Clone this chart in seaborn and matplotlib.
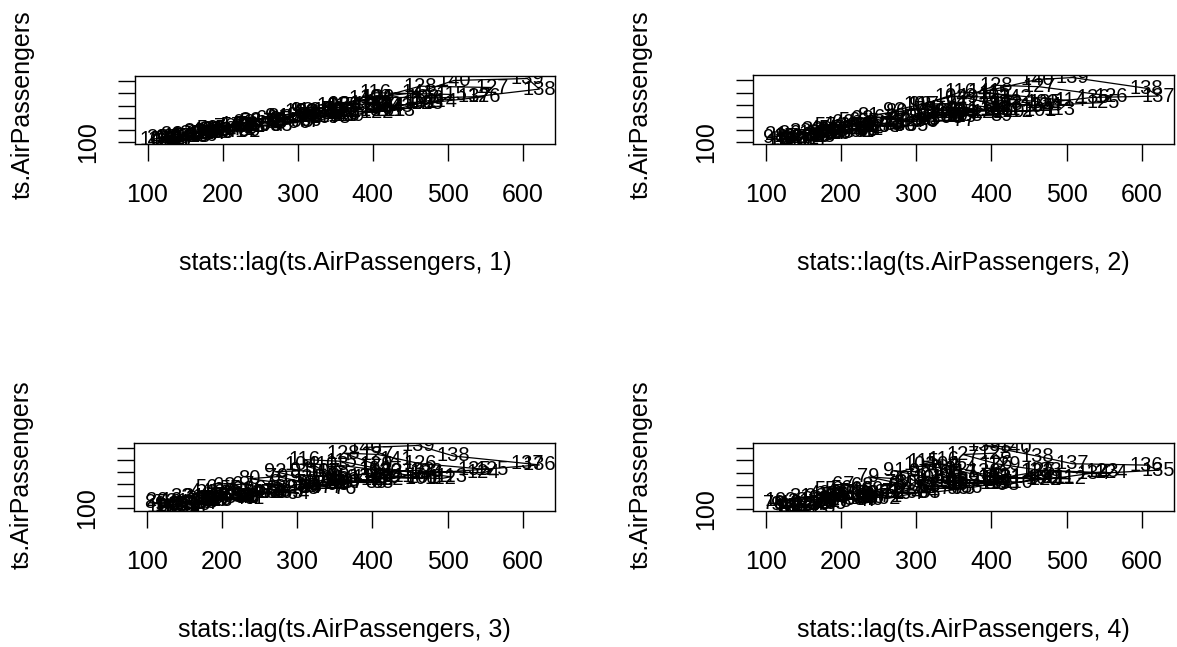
import matplotlib
matplotlib.use("Agg")
import matplotlib.pyplot as plt
import seaborn as sns
import pandas as pd
import numpy as np

# Monthly AirPassengers series, 1949-1960
air_1949 = [112, 118, 132, 129, 121, 135, 148, 148, 136, 119, 104, 118]
air_1950 = [115, 126, 141, 135, 125, 149, 170, 170, 158, 133, 114, 140]
air_1951 = [145, 150, 178, 163, 172, 178, 199, 199, 184, 162, 146, 166]
air_1952 = [171, 180, 193, 181, 183, 218, 230, 242, 209, 191, 172, 194]
air_1953 = [196, 196, 236, 235, 229, 243, 264, 272, 237, 211, 180, 201]
air_1954 = [204, 188, 235, 227, 234, 264, 302, 293, 259, 229, 203, 229]
air_1955 = [242, 233, 267, 269, 270, 315, 364, 347, 312, 274, 237, 278]
air_1956 = [284, 277, 317, 313, 318, 374, 413, 405, 355, 306, 271, 306]
air_1957 = [315, 301, 356, 348, 355, 422, 465, 467, 404, 347, 305, 336]
air_1958 = [340, 318, 362, 348, 363, 435, 491, 505, 404, 359, 310, 337]
air_1959 = [360, 342, 406, 396, 420, 472, 548, 559, 463, 407, 362, 405]
air_1960 = [417, 391, 419, 461, 472, 535, 622, 606, 508, 461, 390, 432]

lags = [1, 2, 3, 4]
x_ticks = [100, 200, 300, 400, 500, 600]
x_tick_labels = ["100", "200", "300", "400", "500", "600"]
y_ticks = [100, 200, 300, 400, 500, 600]
y_tick_labels = ["100", "", "", "", "", ""]
y_title = "ts.AirPassengers"
x_title_fmt = "stats::lag(ts.AirPassengers, {})"

series = np.array(air_1949 + air_1950 + air_1951 + air_1952 + air_1953 + air_1954 +
                  air_1955 + air_1956 + air_1957 + air_1958 + air_1959 + air_1960, dtype=float)

sns.set_style("white")
plt.rcParams["font.family"] = ["Liberation Sans", "DejaVu Sans"]
for key in ["text.color", "axes.labelcolor", "xtick.color", "ytick.color",
            "xtick.labelcolor", "ytick.labelcolor"]:
    plt.rcParams[key] = "black"

W, H = 1177, 647
fig = plt.figure(figsize=(W / 100, H / 100), dpi=100)

# box pixel positions (left, top, right, bottom), x-title y, y-title y
boxes = [(135, 76, 555, 144, 263, 105), (753, 75, 1174, 144, 263, 105),
         (134, 443, 555, 510.5, 630, 475), (753, 443, 1174, 511, 630, 475)]

lo, hi = series.min(), series.max()
pad = 0.04 * (hi - lo)
lim = (lo - pad, hi + pad)

for k, (l, t, r, b, xt, yt) in zip(lags, boxes):
    ax = fig.add_axes([l / W, (H - b) / H, (r - l) / W, (b - t) / H])
    n = len(series) - k
    df = pd.DataFrame({"lagged": series[k:k + n], "orig": series[:n],
                       "idx": np.arange(1, n + 1)})
    sns.lineplot(data=df, x="lagged", y="orig", sort=False, estimator=None,
                 color="black", linewidth=0.9, ax=ax)
    for xv, yv, lab in zip(df["lagged"], df["orig"], df["idx"]):
        ax.text(xv, yv, str(lab), ha="center", va="center", fontsize=14.5,
                color="black", clip_on=True)
    ax.set_xlim(lim)
    ax.set_ylim(lim)
    ax.set_xticks(x_ticks)
    ax.set_xticklabels(x_tick_labels, fontsize=18)
    ax.set_yticks(y_ticks)
    ax.set_yticklabels(y_tick_labels, fontsize=18, rotation=90, va="center")
    ax.tick_params(axis="both", direction="out", length=12.2, width=1.0,
                   color="black", left=True, bottom=True)
    ax.tick_params(axis="x", pad=16)
    ax.tick_params(axis="y", pad=13)
    for sp in ax.spines.values():
        sp.set_visible(True)
        sp.set_color("black")
        sp.set_linewidth(1.0)
    ax.set_xlabel(x_title_fmt.format(k), fontsize=18)
    ax.set_ylabel(y_title, fontsize=18)
    ax.xaxis.label.set_va("center")
    ax.yaxis.label.set_va("center")
    ax.xaxis.set_label_coords(0.5, -(xt - b) / (b - t))
    ax.yaxis.set_label_coords(-112 / (r - l), (b - yt) / (b - t))

fig.savefig("out.png", dpi=100)
